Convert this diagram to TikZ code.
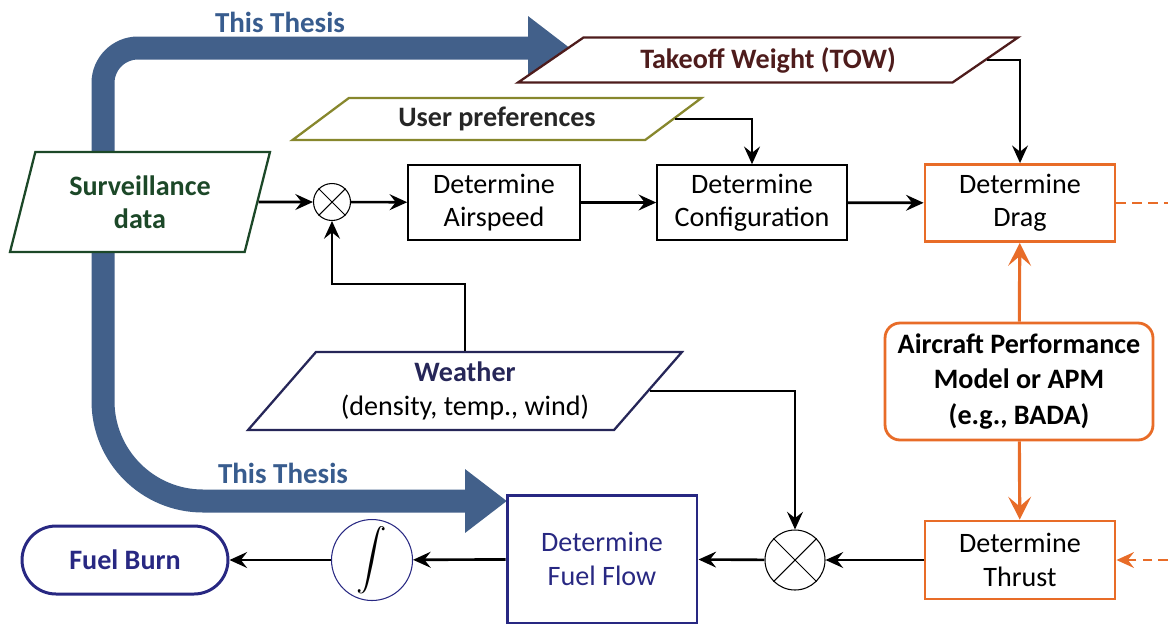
\documentclass[tikz,border=0pt]{standalone}
\usepackage{amsmath}
\usepackage{fontspec}
\setmainfont{Carlito}
\usetikzlibrary{arrows.meta,shapes.geometric}
\definecolor{thesisblue}{RGB}{66,96,138}
\definecolor{thesistext}{RGB}{56,92,142}
\definecolor{survgreen}{RGB}{28,72,40}
\definecolor{prefolive}{RGB}{135,135,45}
\definecolor{towbrown}{RGB}{78,28,28}
\definecolor{wxnavy}{RGB}{38,38,88}
\definecolor{fuelnavy}{RGB}{40,40,130}
\definecolor{apmorange}{RGB}{232,108,40}
\tikzset{
    %Define standard arrow tip
    >={Stealth[length=10pt,width=9pt,inset=3.5pt]},
    every node/.style={font=\fontsize{16}{19}\selectfont},
    block/.style={
      rectangle,
      draw=black, line width=0.9pt,
      minimum width=3.8cm,
      minimum height=1.5cm,
      align=center},
    orangeblock/.style={block, draw=apmorange, line width=1.6pt},
    datanode/.style={
      trapezium, trapezium stretches body=true,
      draw, fill=white, line width=1.3pt,
      inner sep=1pt, align=center,
      font=\fontsize{16}{19}\selectfont\bfseries},
    junction/.style={circle, draw=black, line width=0.6pt, inner sep=0pt},
    thesislabel/.style={text=thesistext, font=\fontsize{16.5}{19}\selectfont\bfseries},
    flow/.style={->, line width=1.5pt},
    apmflow/.style={draw=apmorange, line width=1.8pt,
      -{Stealth[length=13pt,width=13pt,inset=5.5pt]}},
    orangedash/.style={draw=apmorange, line width=1.5pt, dash pattern=on 5.5pt off 3.5pt},
    band/.style={draw=thesisblue, line width=0.46cm,
      -{Triangle[width=1.22cm,length=0.84cm]}}
}
\begin{document}
\begin{tikzpicture}[x=0.02cm, y=-0.02cm]
\useasboundingbox (0,0) rectangle (1168,626);

% thesis band, under the data nodes
\coordinate (bandmid) at (103,202);
\coordinate (bandtop) at (570,48);
\coordinate (bandbot) at (507,501);
\draw[band, rounded corners=0.7cm] (bandmid) |- (bandtop);
\draw[band, rounded corners=2cm] (bandmid) |- (bandbot);
\node[thesislabel] (thesisA) at (280,22) {This Thesis};
\node[thesislabel] (thesisB) at (283,473) {This Thesis};

% data inputs
\node[datanode, draw=survgreen, text=survgreen, trapezium left angle=66, trapezium right angle=114,
  minimum width=5.2cm, minimum height=2cm] (surv) at (140,202) {Surveillance\\data};
\node[datanode, draw=prefolive, text=black!85, trapezium left angle=26, trapezium right angle=154,
  minimum width=8.18cm, minimum height=0.84cm] (pref) at (497,119) {User preferences};
\node[datanode, draw=towbrown, text=towbrown, trapezium left angle=24, trapezium right angle=156,
  minimum width=10cm, minimum height=0.9cm] (tow) at (768,60) {Takeoff Weight (TOW)};
\node[datanode, draw=wxnavy, text=wxnavy, trapezium left angle=42, trapezium right angle=138,
  minimum width=8.68cm, minimum height=1.56cm] (wx) at (465,391) {Weather\\{\mdseries\color{black}(density, temp., wind)}};

% processing blocks
\node[block, minimum width=3.44cm] (airspeed) at (494,202.5) {Determine\\Airspeed};
\node[block] (config) at (752,202.5) {Determine\\Configuration};
\node[orangeblock, minimum height=1.54cm] (drag) at (1020,203) {Determine\\Drag};
\node[orangeblock, rounded corners=0.3cm, minimum width=5.36cm, minimum height=2.34cm,
  font=\fontsize{16}{20}\selectfont\bfseries] (apm) at (1019,381.5) {Aircraft Performance\\Model or APM\\(e.g., BADA)};
\node[orangeblock, minimum height=1.56cm] (thrust) at (1020,560) {Determine\\Thrust};
\node[block, draw=fuelnavy, text=fuelnavy, line width=1.7pt, minimum height=2.56cm] (fuelflow) at (602,559) {Determine\\Fuel Flow};
\node[block, draw=fuelnavy, text=fuelnavy, line width=1.7pt, rounded corners=0.68cm,
  minimum width=4.12cm, minimum height=1.36cm, font=\fontsize{16}{19}\selectfont\bfseries] (burn) at (125,560) {Fuel Burn};

% junctions
\node[junction, minimum size=0.74cm] (mixA) at (332,202) {};
\node[junction, minimum size=1.2cm] (mixB) at (795,560) {};
\node[junction, draw=fuelnavy, minimum size=1.62cm, font=\fontsize{17}{17}\selectfont] (integ) at (372,560) {$\displaystyle\int$};
\foreach \m in {mixA,mixB} {
  \draw[line width=0.6pt] (\m.north west) -- (\m.south east) (\m.north east) -- (\m.south west);
}

% connectors
\draw[flow] (surv.east) -- (mixA);
\draw[flow] (mixA) -- (airspeed);
\draw[flow] (airspeed) -- (config);
\draw[flow] (config) -- (drag);
\draw[flow] (pref.east) -| (config.north);
\draw[flow] (tow.east) -| (drag.north);
\draw[flow] (wx.north) -- ++(0,-67) -| (mixA.south);
\draw[flow] (wx.east) -| (mixB.north);
\draw[flow] (thrust) -- (mixB);
\draw[flow] (mixB) -- (fuelflow);
\draw[flow] (fuelflow) -- (integ);
\draw[flow] (integ) -- (burn);
\draw[apmflow] (apm) -- (drag);
\draw[apmflow] (apm) -- (thrust);
\coordinate (dragout) at (1168,203);
\coordinate (thrustin) at (1168,560);
\draw[orangedash] (drag.east) -- (dragout);
\draw[orangedash, ->] (thrustin) -- (thrust.east);
\end{tikzpicture}
\end{document}
